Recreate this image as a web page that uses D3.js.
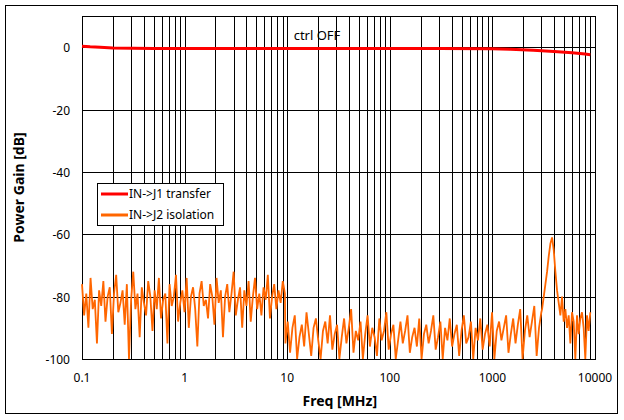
<!DOCTYPE html>
<html>
<head>
<meta charset="utf-8">
<script src="https://cdn.jsdelivr.net/npm/d3@7"></script>
<style>
  body { margin: 0; background: #fff; }
  text { font-family: "Noto Sans", "DejaVu Sans", sans-serif; }
</style>
</head>
<body>
<svg id="chart" width="624" height="420"></svg>
<script>
// ---- data ----
const yTicks = [-100, -80, -60, -40, -20, 0];
const xTicks = [0.1, 1, 10, 100, 1000, 10000];

// IN->J1 transfer
const transferFreq = [0.1, 0.12, 0.15, 0.2, 0.5, 1, 10, 100, 300, 1000, 1500, 2500, 4000, 6000, 8000, 9000];
const transferGain = [0.3, 0.1, 0, -0.3, -0.4, -0.4, -0.4, -0.4, -0.4, -0.5, -0.7, -1.0, -1.4, -1.8, -2.2, -2.4];

// IN->J2 isolation, in three sweep segments
const isoLowRange = [0.1, 9.5];
const isoLow = [-76,-86,-79,-90,-74,-84,-81,-95,-78,-83,-75,-88,-80,-77,-92,-79,-73,-85,-82,-78,-89,-76,-100,-81,-72,-84,-79,-93,-77,-82,-86,-75,-80,-91,-78,-84,-74,-87,-81,-79,-95,-76,-83,-80,-73,-88,-82,-78,-85,-74,-90,-80,-77,-84,-96,-79,-75,-83,-81,-87,-76,-80,-89,-74,-82,-78,-93,-80,-76,-85,-79,-72,-86,-81,-77,-90,-78,-83,-75,-88,-80,-74,-84,-79,-86,-77,-81,-73,-87,-80,-76,-84,-78,-82,-75,-79];
const isoMidRange = [9.6, 3000];
const isoMid = [-95,-88,-98,-90,-86,-100,-93,-89,-96,-85,-92,-99,-90,-87,-94,-100,-91,-88,-95,-86,-97,-92,-89,-100,-93,-87,-95,-90,-84,-98,-91,-94,-88,-100,-92,-86,-96,-90,-93,-99,-87,-94,-91,-85,-97,-92,-89,-100,-94,-88,-95,-91,-86,-98,-93,-90,-96,-87,-100,-92,-89,-95,-91,-86,-97,-93,-88,-100,-90,-94,-87,-96,-92,-89,-99,-91,-86,-95,-93,-88,-100,-90,-94,-87,-97,-92,-89,-96,-85,-100,-91,-88,-94,-90,-86,-98,-92,-87,-95,-89,-84,-100,-91,-86,-93,-88,-83,-99,-90,-85];
const isoHighRange = [3050, 9000];
const isoHigh = [-84,-80,-76,-72,-67,-63,-61,-65,-72,-78,-82,-86,-80,-88,-84,-90,-86,-95,-85,-88,-100,-86,-92,-87,-85,-90,-100,-86,-91,-85];

// ---- layout ----
const svg = d3.select('#chart');
const m = { left: 82, top: 16, right: 595, bottom: 359 };

const x = d3.scaleLog().domain([0.1, 10000]).range([m.left, m.right]);
const y = d3.scaleLinear().domain([-100, 10]).range([m.bottom, m.top]);

// outer frame
svg.append('rect').attr('x', 5.5).attr('y', 5.5).attr('width', 612).attr('height', 408)
  .attr('fill', '#fff').attr('stroke', '#000');

// vertical grid (1..9 of each decade)
const minor = [];
for (let d = 0.1; d < 10000; d *= 10) for (let k = 1; k < 10; k++) minor.push(d * k);
svg.append('g').selectAll('line').data(minor).join('line')
  .attr('x1', d => Math.round(x(d)) + 0.5).attr('x2', d => Math.round(x(d)) + 0.5)
  .attr('y1', m.top).attr('y2', m.bottom).attr('stroke', '#000');

svg.append('g').selectAll('line').data(yTicks).join('line')
  .attr('x1', m.left).attr('x2', m.right)
  .attr('y1', d => Math.round(y(d)) + 0.5).attr('y2', d => Math.round(y(d)) + 0.5)
  .attr('stroke', '#000');

svg.append('rect').attr('x', m.left + 0.5).attr('y', m.top + 0.5)
  .attr('width', m.right - m.left).attr('height', m.bottom - m.top)
  .attr('fill', 'none').attr('stroke', '#000');

// tick labels
svg.append('g').selectAll('text').data(yTicks).join('text')
  .attr('x', m.left - 12).attr('y', d => y(d) + 5).attr('text-anchor', 'end')
  .attr('font-size', 12).text(d => d);
svg.append('g').selectAll('text').data(xTicks).join('text')
  .attr('x', d => x(d)).attr('y', m.bottom + 23).attr('text-anchor', 'middle')
  .attr('font-size', 12).text(d => d);

// axis titles
svg.append('text').attr('x', x(100) - 50).attr('y', 406).attr('text-anchor', 'middle')
  .attr('font-size', 14).attr('font-weight', 'bold').text('Freq [MHz]');
svg.append('text').attr('transform', `translate(24,${(m.top + m.bottom) / 2}) rotate(-90)`)
  .attr('text-anchor', 'middle').attr('font-size', 14).attr('font-weight', 'bold')
  .text('Power Gain [dB]');

svg.append('text').attr('x', 317).attr('y', 40).attr('text-anchor', 'middle')
  .attr('font-size', 13).text('ctrl OFF');

// series: each segment is swept log-evenly between its start and stop
function segment(range, vals) {
  const lf = d3.scaleLinear().domain([0, vals.length - 1]).range(range.map(Math.log10));
  return vals.map((v, i) => [Math.pow(10, lf(i)), v]);
}
const isoData = [].concat(segment(isoLowRange, isoLow), segment(isoMidRange, isoMid), segment(isoHighRange, isoHigh));

const line = d3.line().x(d => x(d[0])).y(d => y(Math.max(-100, d[1])));
svg.append('path').datum(isoData).attr('d', line)
  .attr('fill', 'none').attr('stroke', '#ff6600').attr('stroke-width', 1.8);

svg.append('path').datum(transferFreq.map((f, i) => [f, transferGain[i]])).attr('d', line)
  .attr('fill', 'none').attr('stroke', '#ff0000').attr('stroke-width', 3);

// legend
const lg = svg.append('g').attr('transform', 'translate(97,183)');
lg.append('rect').attr('x', 0.5).attr('y', 0.5).attr('width', 126).attr('height', 42)
  .attr('fill', '#fff').attr('stroke', '#000');
[['IN->J1 transfer', '#ff0000', 3], ['IN->J2 isolation', '#ff6600', 3]].forEach((e, i) => {
  const yy = 11 + i * 21;
  lg.append('line').attr('x1', 4).attr('x2', 31).attr('y1', yy).attr('y2', yy)
    .attr('stroke', e[1]).attr('stroke-width', e[2]);
  lg.append('text').attr('x', 32).attr('y', yy + 4).attr('font-size', 12).text(e[0]);
});
</script>
</body>
</html>
